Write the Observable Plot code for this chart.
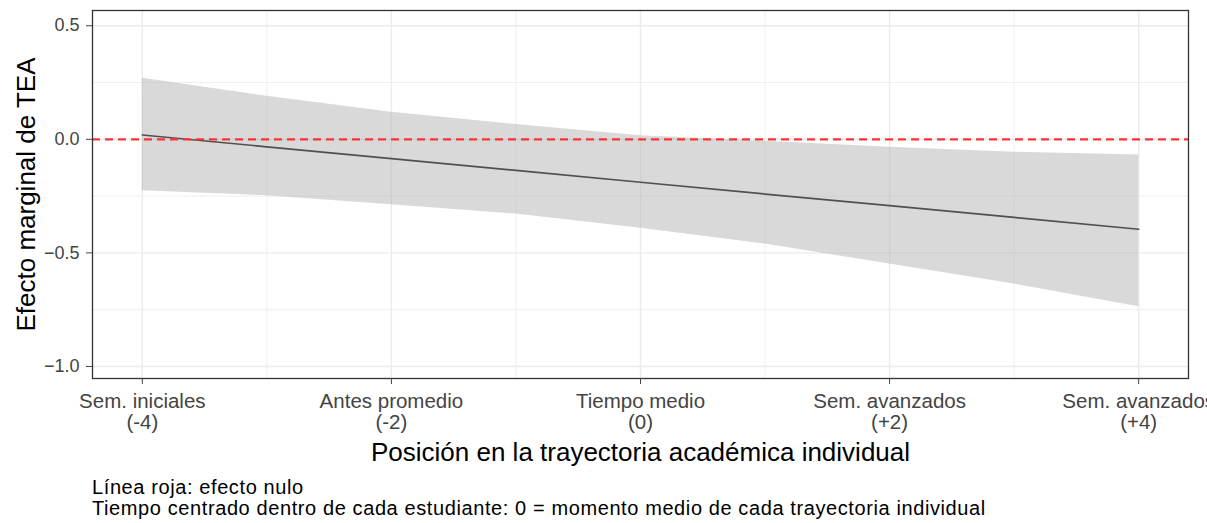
<!DOCTYPE html>
<html>
<head>
<meta charset="utf-8">
<script src="https://cdn.jsdelivr.net/npm/d3@7"></script>
<script src="https://cdn.jsdelivr.net/npm/@observablehq/plot@0.6"></script>
<style>
  html, body { margin: 0; padding: 0; background: #fff; }
  body { width: 1207px; height: 523px; overflow: hidden; font-family: "Liberation Sans", Arial, sans-serif; }
  #chart svg { display: block; }
  #caption { margin-left: 92px; padding-top: 2px; font-size: 20px; letter-spacing: 0.6px; line-height: 21px; color: #000; white-space: nowrap; }
</style>
</head>
<body>
<div id="chart"></div>
<div id="caption"><div>Línea roja: efecto nulo</div><div>Tiempo centrado dentro de cada estudiante: 0 = momento medio de cada trayectoria individual</div></div>
<script>
// Data
const positions = [-4, -3, -2, -1, 0, 1, 2, 3, 4];
const estimate  = [0.019, -0.033, -0.085, -0.137, -0.189, -0.241, -0.292, -0.344, -0.396];
const upper     = [0.269, 0.189, 0.119, 0.065, 0.016, -0.009, -0.035, -0.057, -0.069];
const lower     = [-0.226, -0.248, -0.288, -0.329, -0.392, -0.461, -0.549, -0.637, -0.737];
const nullEffect = [0];

const xTickValues = [-4, -2, 0, 2, 4];
const xTickLabels = ["Sem. iniciales\n(-4)", "Antes promedio\n(-2)", "Tiempo medio\n(0)", "Sem. avanzados\n(+2)", "Sem. avanzados\n(+4)"];
const xMinorTicks = [-3, -1, 1, 3];
const yTickValues = [-1, -0.5, 0, 0.5];
const yMinorTicks = [-0.75, -0.25, 0.25];

const xTitle = "Posición en la trayectoria académica individual";
const yTitle = "Efecto marginal de TEA";

const data = positions.map((p, i) => ({pos: p, est: estimate[i], lo: lower[i], hi: upper[i]}));

const chart = Plot.plot({
  width: 1207,
  height: 475,
  marginLeft: 92,
  marginRight: 19,
  marginTop: 10,
  marginBottom: 97,
  style: {fontFamily: "'Liberation Sans', Arial, sans-serif", background: "#fff"},
  x: {domain: [-4.4, 4.4]},
  y: {domain: [-1.053, 0.567]},
  marks: [
    Plot.ruleX(xMinorTicks, {stroke: "#ebebeb", strokeWidth: 0.8}),
    Plot.ruleY(yMinorTicks, {stroke: "#ebebeb", strokeWidth: 0.8}),
    Plot.ruleX(xTickValues, {stroke: "#ebebeb", strokeWidth: 1.4}),
    Plot.ruleY(yTickValues, {stroke: "#ebebeb", strokeWidth: 1.4}),
    Plot.areaY(data, {x: "pos", y1: "lo", y2: "hi", fill: "#b3b3b3", fillOpacity: 0.5}),
    Plot.line(data, {x: "pos", y: "est", stroke: "#505050", strokeWidth: 1.7}),
    Plot.ruleY(nullEffect, {stroke: "#ff3333", strokeWidth: 2.2, strokeDasharray: "8,5"}),
    Plot.frame({stroke: "#333333", strokeWidth: 1.3}),
    Plot.axisX({
      ticks: xTickValues,
      tickFormat: (d) => xTickLabels[xTickValues.indexOf(d)],
      tickSize: 6,
      tickPadding: 9,
      fontSize: 20.5,
      lineHeight: 1.02,
      color: "#444",
      label: null
    }),
    Plot.axisY({
      ticks: yTickValues,
      tickFormat: d3.format(".1f"),
      tickSize: 6,
      tickPadding: 7,
      fontSize: 18,
      color: "#444",
      label: null
    }),
    Plot.text([xTitle], {frameAnchor: "bottom", dy: 74, fontSize: 26, fill: "#000", textAnchor: "middle", lineAnchor: "middle"}),
    Plot.text([yTitle], {frameAnchor: "left", dx: -66, rotate: -90, fontSize: 26, fill: "#000", textAnchor: "middle", lineAnchor: "middle"})
  ]
});
document.getElementById("chart").appendChild(chart);
</script>
</body>
</html>
